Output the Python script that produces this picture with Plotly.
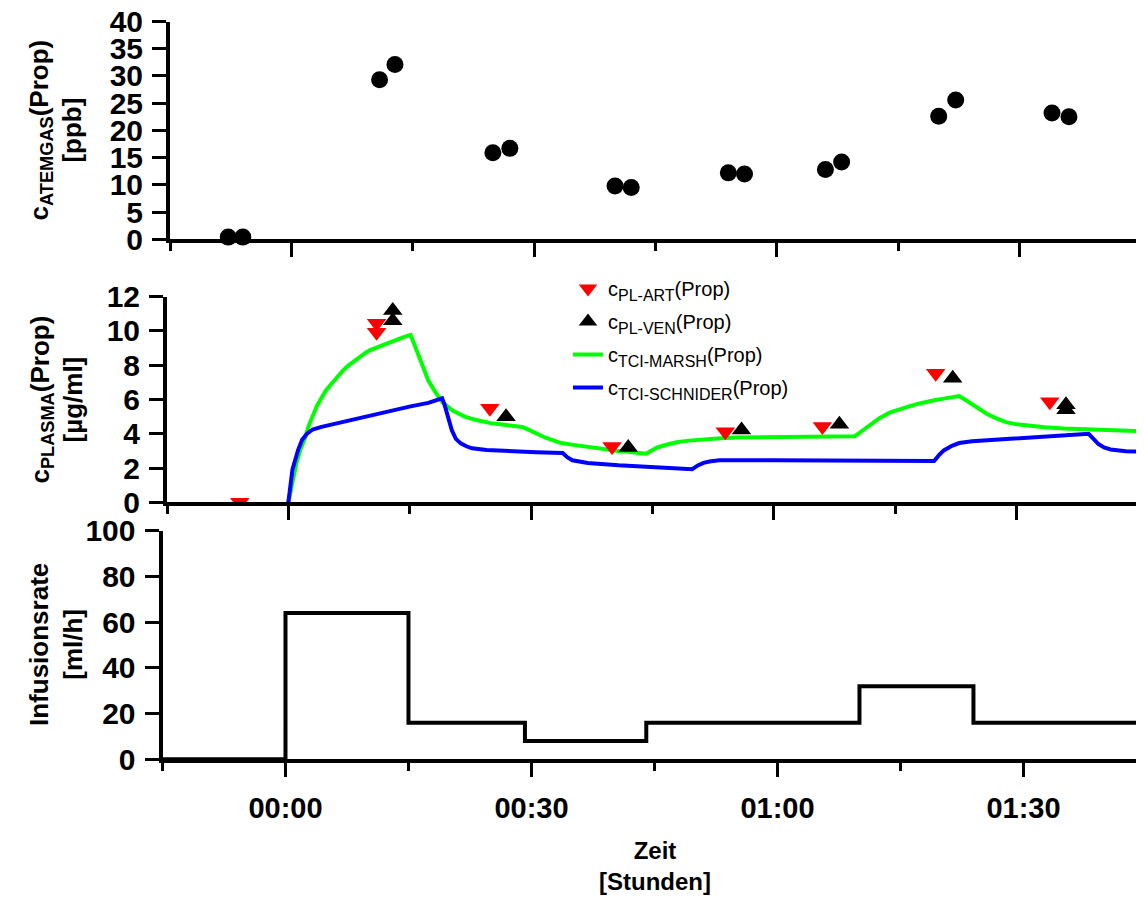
import plotly.graph_objects as go

# page has an 8px body margin, so the figure is 8px smaller and positions are shifted
OFF = 8
W, H = 1144 - OFF, 901 - OFF

# ---------------- data (minutes after start) ----------------
gas_t = [-7.8, -6.0, 10.9, 12.8, 24.9, 27.0, 40.0, 42.0, 54.0, 56.0, 66.0, 68.0, 80.0, 82.1, 94.0, 96.1]
gas_c = [0.4, 0.4, 29.3, 32.1, 15.9, 16.7, 9.8, 9.5, 12.2, 12.0, 12.8, 14.2, 22.6, 25.6, 23.2, 22.5]

art_t = [-6.0, 10.9, 10.9, 24.9, 40.0, 54.0, 66.0, 80.0, 94.1]
art_c = [0.0, 10.45, 9.92, 5.49, 3.25, 4.12, 4.42, 7.53, 5.87]
ven_t = [12.9, 12.9, 26.9, 42.0, 56.0, 68.1, 82.1, 96.1, 96.1]
ven_c = [11.2, 10.6, 5.0, 3.2, 4.22, 4.55, 7.24, 5.7, 5.4]

marsh_t = [0, 0.5, 1.0, 1.5, 2.1, 2.5, 3.0, 3.5, 4.1, 4.6, 5.2, 5.7, 6.3, 6.8, 7.4, 8.0, 8.5, 9.0,
           9.6, 10.1, 10.7, 11.2, 11.8, 12.3, 12.9, 13.4, 14.0, 14.5, 15.1,
           15.5, 16.0, 16.6, 17.3, 18.2, 19.1, 20.3, 21.8, 23.0, 24.0, 25.0, 26.2, 27.5, 28.9,
           29.4, 30.0, 30.6, 31.2, 31.8, 32.5, 33.6, 34.8, 36.0, 37.0, 38.0, 39.8, 41.0, 42.0,
           43.2, 44.2, 44.9, 45.6, 46.7, 48.0, 49.5, 51.3, 53.0, 55.2, 57.5, 60.0, 64.7, 70.0,
           70.5, 71.0, 71.9, 73.0, 74.3, 75.5, 76.7, 78.0, 79.1, 80.0, 81.0, 82.0, 82.9,
           83.6, 84.4, 85.3, 86.3, 87.5, 88.7, 90.0, 91.5, 93.5, 95.8, 98.0, 100.6, 103.0, 105.0]
marsh_c = [0, 1.2, 2.3, 3.1, 3.8, 4.45, 5.0, 5.6, 6.1, 6.5, 6.85, 7.15, 7.45, 7.72, 7.98, 8.2, 8.4, 8.58,
           8.75, 8.88, 9.0, 9.1, 9.2, 9.3, 9.4, 9.5, 9.6, 9.68, 9.77,
           9.3, 8.7, 7.9, 7.1, 6.4, 5.8, 5.35, 5.0, 4.83, 4.7, 4.62, 4.55, 4.47, 4.4,
           4.3, 4.15, 4.02, 3.9, 3.77, 3.65, 3.47, 3.38, 3.3, 3.22, 3.15, 3.04, 2.98, 2.95,
           2.9, 2.84, 3.02, 3.2, 3.36, 3.5, 3.6, 3.68, 3.73, 3.78, 3.8, 3.82, 3.85, 3.86,
           4.03, 4.2, 4.55, 4.9, 5.23, 5.43, 5.6, 5.77, 5.9, 5.97, 6.05, 6.13, 6.2,
           6.0, 5.75, 5.45, 5.17, 4.9, 4.68, 4.55, 4.47, 4.38, 4.31, 4.27, 4.23, 4.19, 4.16]

schn_t = [0, 0.5, 1.2, 1.7, 2.3, 3.0, 4.1, 6.3, 8.5, 10.7, 12.9, 15.1, 17.3, 19.0, 19.3, 19.6,
          20.2, 20.7, 21.3, 22.0, 22.7, 24.5, 26.2, 30.6, 33.9, 34.5, 35.1, 36.0, 37.0, 40.8,
          45.6, 49.9, 50.6, 51.3, 52.2, 53.3, 60.0, 69.5, 79.8, 80.4, 81.0, 82.0, 82.9, 84.5,
          86.3, 91.1, 95.8, 98.9, 99.5, 100.1, 100.8, 101.6, 103.5, 105.0]
schn_c = [0, 1.9, 3.05, 3.65, 4.0, 4.25, 4.4, 4.65, 4.9, 5.15, 5.4, 5.6, 5.8, 6.07, 5.7, 5.2,
          4.2, 3.7, 3.44, 3.27, 3.15, 3.05, 3.0, 2.92, 2.88, 2.62, 2.45, 2.36, 2.3, 2.16,
          2.02, 1.93, 2.15, 2.3, 2.4, 2.45, 2.45, 2.45, 2.41, 2.75, 3.03, 3.3, 3.46, 3.56,
          3.62, 3.77, 3.9, 4.0, 3.7, 3.4, 3.2, 3.08, 2.98, 2.96]

inf_t = [-15, 0, 15, 29.2, 44.0, 70.0, 83.9, 105]
inf_r = [0, 64, 16, 8, 16, 32, 16, 16]

x_tickvals = [0, 30, 60, 90]
x_ticktext = ["00:00", "00:30", "01:00", "01:30"]
x_minor = [-15, 15, 45, 75, 105]

FONT = "Liberation Sans"


def leg(main, sub):
    return f"c<sub><span style='font-size:16px'>{sub}</span></sub>{main}"


def px(x):
    return (x - OFF) / W


def py(y):
    return 1 - (y - OFF) / H


fig = go.Figure()

# top panel
fig.add_trace(go.Scatter(x=gas_t, y=gas_c, mode="markers", xaxis="x", yaxis="y",
                         marker=dict(symbol="circle", size=17, color="black"),
                         cliponaxis=False, showlegend=False))

# middle panel: lines first, markers above
fig.add_trace(go.Scatter(x=marsh_t, y=marsh_c, mode="lines", xaxis="x2", yaxis="y2",
                         line=dict(color="#00ff00", width=4), legendrank=3,
                         name=leg("(Prop)", "TCI-MARSH"), legendgroup="g3"))
fig.add_trace(go.Scatter(x=schn_t, y=schn_c, mode="lines", xaxis="x2", yaxis="y2",
                         line=dict(color="#0000ff", width=4), legendrank=4,
                         name=leg("(Prop)", "TCI-SCHNIDER"), legendgroup="g4"))
fig.add_trace(go.Scatter(x=art_t, y=art_c, mode="markers", xaxis="x2", yaxis="y2",
                         marker=dict(symbol="triangle-down", size=17, color="#ff0000"),
                         legendrank=1, name=leg("(Prop)", "PL-ART"), legendgroup="g1"))
fig.add_trace(go.Scatter(x=ven_t, y=ven_c, mode="markers", xaxis="x2", yaxis="y2",
                         marker=dict(symbol="triangle-up", size=17, color="black"),
                         legendrank=2, name=leg("(Prop)", "PL-VEN"), legendgroup="g2"))

# bottom panel
fig.add_trace(go.Scatter(x=inf_t, y=inf_r, mode="lines", xaxis="x3", yaxis="y3",
                         line=dict(color="black", width=4, shape="hv"), showlegend=False))

tickfont = dict(family=FONT, size=30, color="black", weight="bold")


def xax(domain, rng, anchor, labels):
    d = dict(domain=domain, range=rng, anchor=anchor, showline=True, linewidth=4,
             linecolor="black", ticks="outside", ticklen=14, tickwidth=3, tickcolor="black",
             tickmode="array", tickvals=x_tickvals, showgrid=False, zeroline=False,
             minor=dict(tickmode="array", tickvals=x_minor, ticks="outside", ticklen=8,
                        tickwidth=3, tickcolor="black", showgrid=False),
             tickfont=dict(family=FONT, size=29, color="black", weight="bold"),
             showticklabels=labels, fixedrange=True, automargin=False,
             ticklabeloverflow="allow")
    if labels:
        d["ticktext"] = x_ticktext
        d["ticklabelstandoff"] = 6
    return d


def yax(domain, rng, dtick, anchor):
    return dict(domain=domain, range=rng, anchor=anchor, showline=True, linewidth=4,
                linecolor="black", ticks="outside", ticklen=14, tickwidth=3, tickcolor="black",
                dtick=dtick, tick0=0, showgrid=False, zeroline=False, tickfont=tickfont,
                ticklabelstandoff=3, fixedrange=True, automargin=False,
                ticklabeloverflow="allow")


fig.update_layout(
    width=W, height=H,
    margin=dict(l=0, r=0, t=0, b=0, pad=0),
    paper_bgcolor="white", plot_bgcolor="white",
    xaxis=xax([px(170), px(1141)], [-15, 105], "y", False),
    yaxis=yax([py(239.3), py(21.5)], [0, 40], 5, "x"),
    xaxis2=xax([px(167), px(1138)], [-15, 105], "y2", False),
    yaxis2=yax([py(502.3), py(296.7)], [0, 12], 2, "x2"),
    xaxis3=xax([px(162.5), 1.0], [-15, 104.7], "y3", True),
    yaxis3=yax([py(759.3), py(530.7)], [0, 100], 20, "x3"),
    legend=dict(x=px(568), y=py(269), xanchor="left", yanchor="top",
                font=dict(family=FONT, size=20, color="black"),
                bgcolor="rgba(0,0,0,0)", tracegroupgap=4, traceorder="grouped"),
    showlegend=True,
)

title_font = dict(family=FONT, size=26, color="black")
titles = [
    ("<b>c<sub>ATEMGAS</sub>(Prop)</b><br><b>[ppb]</b>", (239.3 + 21.5) / 2),
    ("<b>c<sub>PLASMA</sub>(Prop)</b><br><b>[µg/ml]</b>", (502.3 + 296.7) / 2),
    ("<b>Infusionsrate</b><br><b>[ml/h]</b>", (759.3 + 530.7) / 2),
]
for txt, yc in titles:
    fig.add_annotation(text=txt, xref="paper", yref="paper", x=px(56), y=py(yc),
                       xanchor="center", yanchor="middle", textangle=-90,
                       showarrow=False, font=title_font)

fig.add_annotation(text="<b>Zeit</b><br><b>[Stunden]</b>", xref="paper", yref="paper",
                   x=px(655), y=py(866), xanchor="center", yanchor="middle",
                   showarrow=False, font=dict(family=FONT, size=24, color="black"))

fig.write_html("out.html")
